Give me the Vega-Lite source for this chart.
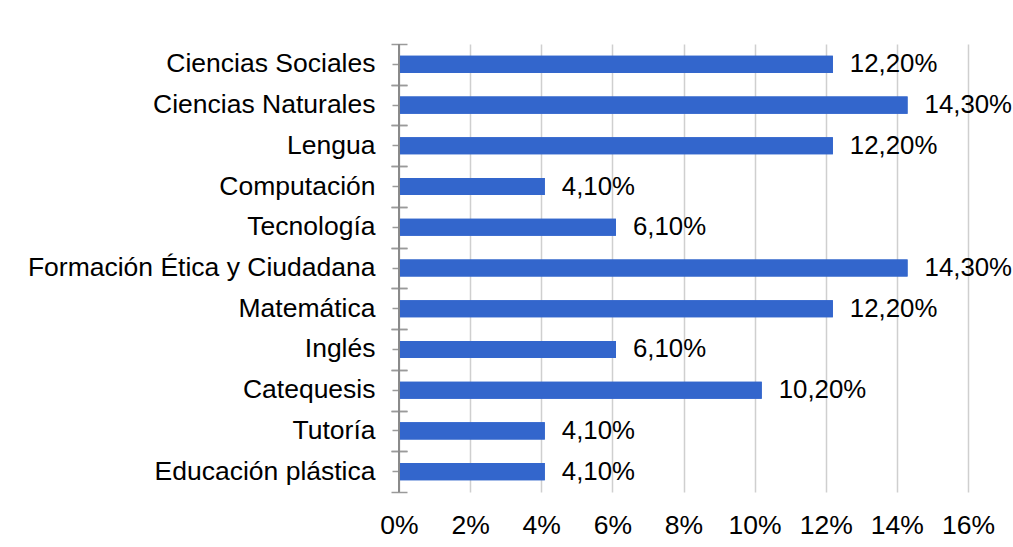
{
  "$schema": "https://vega.github.io/schema/vega-lite/v6.json",
  "autosize": {"type": "none"},
  "width": 569,
  "height": 448,
  "padding": {"left": 399, "top": 44, "right": 45, "bottom": 55},
  "background": "white",
  "config": {
    "font": "Liberation Sans",
    "view": {"stroke": null},
    "locale": {"number": {"decimal": ",", "thousands": ".", "grouping": [3], "currency": ["", " €"]}}
  },
  "data": {"values": [
    {"materia": "Ciencias Sociales", "pct": 0.122},
    {"materia": "Ciencias Naturales\u00a0", "pct": 0.143},
    {"materia": "Lengua\u00a0", "pct": 0.122},
    {"materia": "Computación\u00a0", "pct": 0.041},
    {"materia": "Tecnología\u00a0", "pct": 0.061},
    {"materia": "Formación Ética y Ciudadana", "pct": 0.143},
    {"materia": "Matemática\u00a0", "pct": 0.122},
    {"materia": "Inglés\u00a0", "pct": 0.061},
    {"materia": "Catequesis\u00a0", "pct": 0.102},
    {"materia": "Tutoría\u00a0", "pct": 0.041},
    {"materia": "Educación plástica", "pct": 0.041}
  ]},
  "resolve": {"axis": {"y": "independent"}},
  "layer": [
    {
      "mark": {"type": "bar", "color": "#3366CC"},
      "encoding": {
        "y": {"field": "materia", "type": "nominal", "sort": null,
          "scale": {"paddingInner": 0.58, "paddingOuter": 0.29},
          "axis": {"title": null, "orient": "left", "domain": false, "grid": false,
            "ticks": true, "tickSize": 13, "offset": -6, "tickColor": "#9a9a9a", "tickWidth": 1.5,
            "labelPadding": 17, "labelFontSize": 26.5, "labelColor": "#000000", "labelFont": "Liberation Sans", "labelLimit": 500}},
        "x": {"field": "pct", "type": "quantitative",
          "scale": {"domain": [0, 0.16], "nice": false},
          "axis": {"title": null, "format": ".0%", "values": [0, 0.02, 0.04, 0.06, 0.08, 0.1, 0.12, 0.14, 0.16],
            "domain": false, "ticks": false, "grid": true, "gridColor": "#cfcfcf", "gridWidth": 1.5,
            "labelOverlap": false, "labelFlush": false, "labelBound": false,
            "labelPadding": 20, "labelFontSize": 26.5, "labelColor": "#000000", "labelFont": "Liberation Sans"}}
      }
    },
    {
      "mark": {"type": "text", "align": "left", "baseline": "middle", "dx": 17, "fontSize": 25.8, "color": "#000000", "font": "Liberation Sans"},
      "encoding": {
        "y": {"field": "materia", "type": "nominal", "sort": null,
          "axis": {"title": null, "orient": "left", "domain": false, "grid": false, "labels": false,
            "ticks": true, "tickSize": 16, "offset": -8, "tickOffset": -20.36, "tickColor": "#9a9a9a", "tickWidth": 1.5}},
        "x": {"field": "pct", "type": "quantitative"},
        "text": {"field": "pct", "type": "quantitative", "format": ".2%"}
      }
    },
    {
      "mark": {"type": "bar", "color": "#3366CC"},
      "encoding": {
        "y": {"field": "materia", "type": "nominal", "sort": null,
          "axis": {"title": null, "orient": "left", "domain": false, "grid": false, "labels": false,
            "ticks": true, "tickSize": 16, "offset": -8, "tickOffset": 20.36, "tickColor": "#9a9a9a", "tickWidth": 1.5}},
        "x": {"field": "pct", "type": "quantitative"}
      }
    },
    {
      "mark": {"type": "rule", "color": "#8a8a8a", "strokeWidth": 1.5},
      "encoding": {"x": {"datum": 0}}
    }
  ]
}
